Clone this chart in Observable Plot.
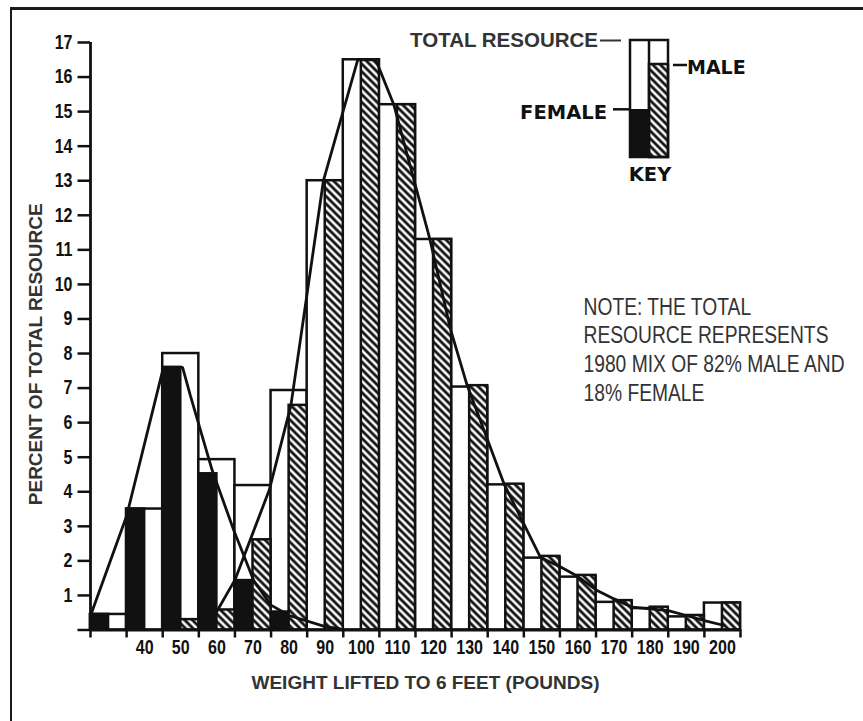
<!DOCTYPE html>
<html>
<head>
<meta charset="utf-8">
<script src="https://cdn.jsdelivr.net/npm/d3@7"></script>
<script src="https://cdn.jsdelivr.net/npm/@observablehq/plot@0.6"></script>
<style>
  html, body { margin: 0; padding: 0; background: #fff; }
  #wrap { position: relative; width: 863px; height: 721px; overflow: hidden; }
  #chart svg { display: block; position: absolute; left: 0; top: 0; }
  #frameBorder { position: absolute; left: 10px; top: 7px; width: 1000px; height: 1000px;
    border-left: 2.5px solid #1a1a1a; border-top: 3px solid #1a1a1a; }
  #key { position: absolute; left: 0; top: 0; }
</style>
</head>
<body>
<div id="wrap">
  <div id="frameBorder"></div>
  <div id="chart"></div>
</div>
<script>
// ---- data ----
const binCenters = [30, 40, 50, 60, 70, 80, 90, 100, 110, 120, 130, 140, 150, 160, 170, 180, 190, 200];
const femalePct  = [0.45, 3.5, 7.6, 4.52, 1.43, 0.52, 0, 0, 0, 0, 0, 0, 0, 0, 0, 0, 0, 0];
const malePct    = [0, 0, 0.3, 0.58, 2.61, 6.5, 13.0, 16.5, 15.2, 11.3, 7.07, 4.22, 2.13, 1.58, 0.85, 0.66, 0.42, 0.78];
const totalPct   = [0.45, 3.5, 8.0, 4.93, 4.18, 6.93, 13.0, 16.5, 15.2, 11.3, 7.03, 4.2, 2.08, 1.53, 0.8, 0.62, 0.38, 0.78];

const femaleCurveW = [25.3, 35, 45.2, 50.5, 52.7, 58.7, 64.7, 70.2, 75, 80, 90, 94];
const femaleCurveV = [0.5, 3.3, 7.6, 7.6, 6.77, 4.62, 2.88, 1.43, 0.72, 0.42, 0.1, 0.04];

const maleCurveW = [59.5, 65, 74.5, 80.5, 89.5, 99, 104, 109, 114.5, 119, 124.7, 129.3, 139.5, 149.6, 155.2, 159.5, 165.3, 170, 175, 185, 190, 195, 200.5];
const maleCurveV = [0.45, 1.45, 4.05, 6.5, 13.0, 16.5, 16.5, 15.2, 13.05, 11.3, 8.7, 7.08, 4.23, 2.1, 1.82, 1.58, 1.14, 0.9, 0.66, 0.56, 0.42, 0.27, 0.13];

const yTicks = [0, 1, 2, 3, 4, 5, 6, 7, 8, 9, 10, 11, 12, 13, 14, 15, 16, 17];
const xTickEdges = [25, 35, 45, 55, 65, 75, 85, 95, 105, 115, 125, 135, 145, 155, 165, 175, 185, 195, 205];
const xTickLabels = [40, 50, 60, 70, 80, 90, 100, 110, 120, 130, 140, 150, 160, 170, 180, 190, 200];

const xTitle = "WEIGHT LIFTED TO 6 FEET (POUNDS)";
const yTitle = "PERCENT OF TOTAL RESOURCE";
const noteLines = ["NOTE: THE TOTAL", "RESOURCE REPRESENTS", "1980 MIX OF 82% MALE AND", "18% FEMALE"];
const keyLabels = { total: "TOTAL RESOURCE", male: "MALE", female: "FEMALE", key: "KEY" };

// ---- tables built from the arrays ----
const halfBin = 5;
const bins = binCenters.map((c, i) => ({
  c, lo: c - halfBin, hi: c + halfBin,
  female: femalePct[i], male: malePct[i], total: totalPct[i]
}));
const femaleCurve = femaleCurveW.map((w, i) => ({ w, v: femaleCurveV[i] }));
const maleCurve = maleCurveW.map((w, i) => ({ w, v: maleCurveV[i] }));

const INK = "#111";
const GRAY = "#333";
const sans = "'Liberation Sans', Arial, Helvetica, sans-serif";

const svg = Plot.plot({
  width: 863,
  height: 721,
  marginLeft: 90,
  marginRight: 123,
  marginTop: 42,
  marginBottom: 91.5,
  x: { domain: [25, 205], axis: null },
  y: { domain: [0, 17], axis: null },
  style: { background: "transparent", overflow: "visible", color: INK },
  marks: [
    // total resource (white, full bin)
    Plot.rect(bins, { x1: "lo", x2: "hi", y1: 0, y2: "total", fill: "white", stroke: INK, strokeWidth: 2.5 }),
    // female (black, left half)
    Plot.rect(bins.filter(d => d.female > 0), { x1: "lo", x2: "c", y1: 0, y2: "female", fill: INK, stroke: INK, strokeWidth: 2.5 }),
    // male (hatched, right half)
    Plot.rect(bins.filter(d => d.male > 0), { x1: "c", x2: "hi", y1: 0, y2: "male", fill: "url(#hatch)", stroke: INK, strokeWidth: 2.5 }),
    // distribution curves
    Plot.line(femaleCurve, { x: "w", y: "v", stroke: INK, strokeWidth: 2.8, strokeLinejoin: "miter" }),
    Plot.line(maleCurve, { x: "w", y: "v", stroke: INK, strokeWidth: 2.8, strokeLinejoin: "miter" }),
    // axes lines
    Plot.ruleX([25], { y1: 0, y2: 17, stroke: INK, strokeWidth: 2.8 }),
    Plot.ruleY([0], { x1: 25, x2: 205, stroke: INK, strokeWidth: 2.8 }),
    Plot.axisY(yTicks, {
      label: null, tickSize: 12.5, tickPadding: 5.5, strokeWidth: 2.5,
      tickFormat: d => (d === 0 ? "" : String(d)),
      fontSize: 20, fontWeight: "bold", fontFamily: sans, fill: INK
    }),
    Plot.axisX(xTickEdges, {
      label: null, tickSize: 8, strokeWidth: 2.5, tickFormat: () => ""
    }),
    Plot.axisX(xTickLabels, {
      label: null, tickSize: 0, tickPadding: 10,
      fontSize: 20, fontWeight: "bold", fontFamily: sans, fill: INK
    }),
    // titles
    Plot.text([xTitle], {
      text: d => d, frameAnchor: "bottom", dx: 10, dy: 52.5, lineAnchor: "middle", textAnchor: "middle",
      fontSize: 19, fontWeight: "bold", fontFamily: sans, fill: GRAY
    }),
    Plot.text([yTitle], {
      text: d => d, frameAnchor: "left", dx: -55, dy: 18, rotate: -90, lineAnchor: "middle", textAnchor: "middle",
      fontSize: 19, fontWeight: "bold", fontFamily: sans, fill: GRAY
    }),
    Plot.text([noteLines.join("\n")], {
      text: d => d, frameAnchor: "top-left", dx: 493, dy: 306, textAnchor: "start",
      lineAnchor: "middle", lineHeight: 1.22,
      fontSize: 23.5, fontFamily: sans, fill: GRAY
    })
  ]
});
document.getElementById("chart").appendChild(svg);

// condensed look (the reference uses narrow type faces)
function squeeze(el, s) {
  const x = +el.getAttribute("x") || 0;
  const t = el.getAttribute("transform") || "";
  el.setAttribute("transform", `${t} translate(${x},0) scale(${s},1) translate(${-x},0)`);
}
d3.select(svg).selectAll('g[aria-label="y-axis tick label"] text').each(function () { squeeze(this, 0.8); });
d3.select(svg).selectAll('g[aria-label="x-axis tick label"] text').each(function () { squeeze(this, 0.8); });
d3.select(svg).selectAll("text")
  .filter(function () { return this.textContent.startsWith("NOTE"); })
  .each(function () { squeeze(this, 0.82); });

// hatch pattern
const defs = d3.select(svg).insert("defs", ":first-child");
const pat = defs.append("pattern")
  .attr("id", "hatch").attr("patternUnits", "userSpaceOnUse")
  .attr("width", 5.4).attr("height", 5.4)
  .attr("patternTransform", "rotate(-45)");
pat.append("rect").attr("width", 5.4).attr("height", 5.4).attr("fill", INK);
pat.append("rect").attr("x", 1.4).attr("width", 2.6).attr("height", 5.4).attr("fill", "#fff");

// ---- key (legend) ----
const key = d3.select("#wrap").append("svg").attr("id", "key").attr("width", 863).attr("height", 721);
const kx = 630, ky = 40, kw = 38, kh = 117, kmid = 649, kFemTop = 109, kMaleTop = 64;
key.append("rect").attr("x", kx).attr("y", ky).attr("width", kw).attr("height", kh).attr("fill", "white");
key.append("rect").attr("x", kx).attr("y", kFemTop).attr("width", kmid - kx).attr("height", ky + kh - kFemTop).attr("fill", INK);
key.append("rect").attr("x", kmid).attr("y", kMaleTop).attr("width", kx + kw - kmid).attr("height", ky + kh - kMaleTop)
  .attr("fill", "url(#hatch)").attr("stroke", INK).attr("stroke-width", 2.5);
key.append("rect").attr("x", kx).attr("y", ky).attr("width", kw).attr("height", kh)
  .attr("fill", "none").attr("stroke", INK).attr("stroke-width", 2.5);
key.append("line").attr("x1", kmid).attr("x2", kmid).attr("y1", ky).attr("y2", ky + kh).attr("stroke", INK).attr("stroke-width", 2.5);
// leader dashes
key.append("line").attr("x1", 600).attr("x2", 621).attr("y1", 40.5).attr("y2", 40.5).attr("stroke", GRAY).attr("stroke-width", 2);
key.append("line").attr("x1", 673).attr("x2", 687).attr("y1", 65).attr("y2", 65).attr("stroke", INK).attr("stroke-width", 2.5);
key.append("line").attr("x1", 613).attr("x2", 630).attr("y1", 109.3).attr("y2", 109.3).attr("stroke", INK).attr("stroke-width", 2.5);
// labels
key.append("text").attr("x", 598).attr("y", 40).attr("dy", "0.36em").attr("text-anchor", "end")
  .attr("font-family", sans).attr("font-weight", "bold").attr("font-size", 20.5).attr("fill", GRAY).text(keyLabels.total);
key.append("text").attr("x", 687).attr("y", 66.7).attr("dy", "0.36em").attr("text-anchor", "start")
  .attr("font-family", "'DejaVu Sans', sans-serif").attr("font-weight", "bold").attr("font-size", 19).attr("fill", INK).text(keyLabels.male);
key.append("text").attr("x", 607).attr("y", 111.7).attr("dy", "0.36em").attr("text-anchor", "end")
  .attr("font-family", "'DejaVu Sans', sans-serif").attr("font-weight", "bold").attr("font-size", 19.5).attr("fill", INK).text(keyLabels.female);
key.append("text").attr("x", 650).attr("y", 174).attr("dy", "0.36em").attr("text-anchor", "middle")
  .attr("font-family", "'DejaVu Sans', sans-serif").attr("font-weight", "bold").attr("font-size", 19.5).attr("fill", INK).text(keyLabels.key);
</script>
</body>
</html>
